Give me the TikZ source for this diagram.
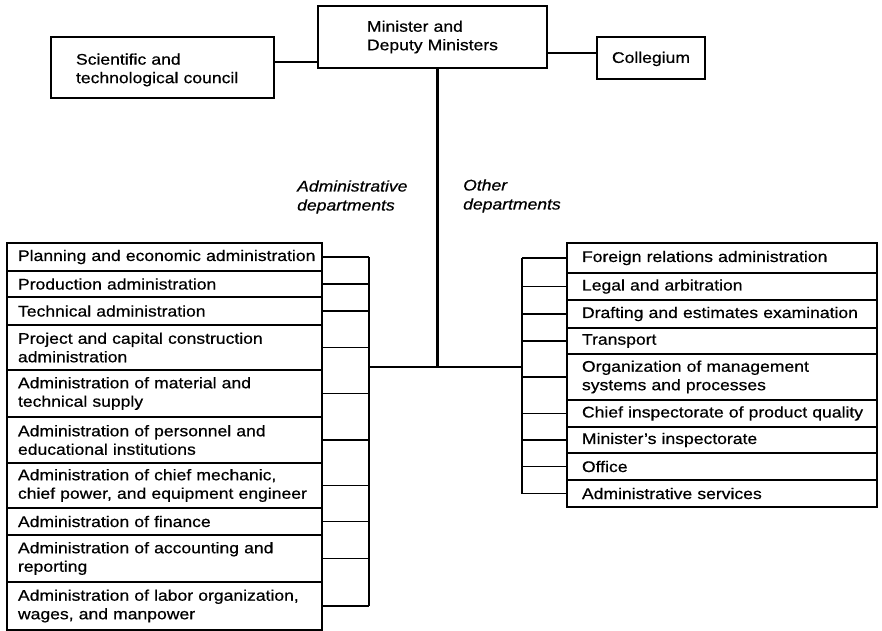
\documentclass[tikz,border=0pt]{standalone}
\usepackage{fontspec}
\setmainfont[FakeStretch=1.14,FakeBold=0.6]{Liberation Sans}
% indents for the text inside the department boxes
\newcommand\lind{\hspace*{7pt}}
\newcommand\rind{\hspace*{11pt}}
\begin{document}
\begin{tikzpicture}[x=1pt,y=-1pt,
  font=\fontsize{15.4}{18.5}\selectfont,
  unit/.style={draw, line width=1.8pt, anchor=north west, align=left,
    inner ysep=0pt, outer sep=0pt},
  leftunit/.style={unit, minimum width=315pt, text width=307pt, inner xsep=4pt},
  rightunit/.style={unit, minimum width=310pt, text width=302pt, inner xsep=4pt},
  link/.style={line width=1.6pt},
  trunk/.style={line width=3pt},
  caption/.style={font=\fontsize{15.4}{19}\selectfont\itshape, align=left, anchor=west, inner sep=0pt}]
\useasboundingbox (0,0) rectangle (882,630);

% top level
\node[unit, minimum width=229pt, minimum height=62pt, text width=170pt, inner xsep=0pt] (min) at (318,6)
  {\hspace*{19.5pt}Minister and\\\hspace*{19.5pt}Deputy Ministers};
\node[unit, minimum width=223pt, minimum height=61pt, text width=173pt, inner xsep=25pt] (sci) at (51,37)
  {\rule{0pt}{16pt}Scientific and\\technological council};
\node[unit, minimum width=108pt, minimum height=42pt, align=center, inner xsep=0pt] (col) at (597,37) {\rule{0pt}{13pt}Collegium};

\draw[link] ([yshift=5.5pt]sci.east) -- ([yshift=5.5pt]sci.east -| min.west);
\draw[link] ([yshift=5pt]col.west) -- ([yshift=5pt]col.west -| min.east);

% administrative departments
\node[leftunit, minimum height=28pt] (a1) at (7,243) {\lind Planning and economic administration};
\node[leftunit, minimum height=26pt] (a2) at (7,271) {\lind Production administration};
\node[leftunit, minimum height=28pt] (a3) at (7,297) {\lind Technical administration};
\node[leftunit, minimum height=45pt] (a4) at (7,325) {\lind Project and capital construction\\\lind administration};
\node[leftunit, minimum height=47pt] (a5) at (7,370) {\lind Administration of material and\\\lind technical supply};
\node[leftunit, minimum height=46pt] (a6) at (7,417) {\lind Administration of personnel and\\\lind educational institutions};
\node[leftunit, minimum height=45pt] (a7) at (7,463) {\lind Administration of chief mechanic,\\\lind chief power, and equipment engineer};
\node[leftunit, minimum height=27pt] (a8) at (7,508) {\lind Administration of finance};
\node[leftunit, minimum height=47pt] (a9) at (7,535) {\lind Administration of accounting and\\\lind reporting};
\node[leftunit, minimum height=48pt] (a10) at (7,582) {\lind Administration of labor organization,\\\lind wages, and manpower};

% other departments
\node[rightunit, minimum height=30pt] (b1) at (567,243) {\rind Foreign relations administration};
\node[rightunit, minimum height=27pt] (b2) at (567,273) {\rind Legal and arbitration};
\node[rightunit, minimum height=28pt] (b3) at (567,300) {\rind Drafting and estimates examination};
\node[rightunit, minimum height=26pt] (b4) at (567,328) {\rind Transport};
\node[rightunit, minimum height=46pt] (b5) at (567,354) {\rind Organization of management\\\rind systems and processes};
\node[rightunit, minimum height=27pt] (b6) at (567,400) {\rind Chief inspectorate of product quality};
\node[rightunit, minimum height=26pt] (b7) at (567,427) {\rind Minister's inspectorate};
\node[rightunit, minimum height=27pt] (b8) at (567,453) {\rind Office};
\node[rightunit, minimum height=27pt] (b9) at (567,480) {\rind Administrative services};

% connectors
\coordinate (top) at (437,68);
\coordinate (jl) at (369,367);
\coordinate (jr) at (522,367);
\draw[trunk] (top) -- (top |- jl);
\draw[link] (jl) -- (jr);
\draw[link] (a1.east -| jl) -- (a10.east -| jl);
\foreach \i in {1,...,10} \draw[link] (a\i.east) -- (a\i.east -| jl);
\draw[link] (b1.west -| jr) -- (b9.west -| jr);
\foreach \i in {1,...,9} \draw[link] (b\i.west) -- (b\i.west -| jr);

% group captions
\node[caption] (capa) at (297,197) {Administrative\\departments};
\node[caption] (capb) at (463,196) {Other\\departments};
\end{tikzpicture}
\end{document}
